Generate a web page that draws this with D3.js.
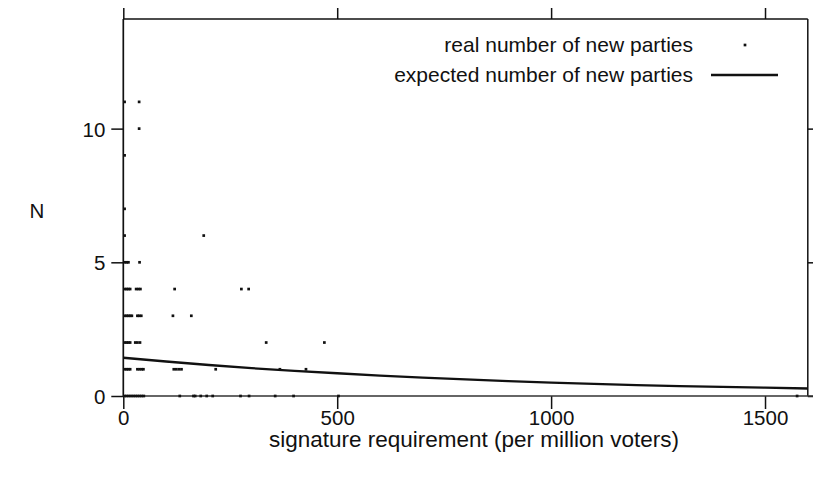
<!DOCTYPE html>
<html>
<head>
<meta charset="utf-8">
<script src="https://cdn.jsdelivr.net/npm/d3@7"></script>
<style>
  html, body { margin: 0; padding: 0; background: #fff; }
  svg { display: block; }
  text { font-family: "Liberation Sans", Arial, Helvetica, sans-serif; fill: #111; }
</style>
</head>
<body>
<svg id="chart" width="813" height="478"></svg>
<script>
// Observed new parties per signature requirement, grouped by count N
const rowN      = [11, 10, 9, 7, 6, 5, 4, 3, 2, 1, 0];
const rowSigReq = [
  [3, 37],
  [37],
  [3],
  [3],
  [3, 188],
  [4, 8, 12, 38],
  [4, 8, 12, 16, 30, 35, 40, 120, 276, 293],
  [4, 8, 12, 16, 20, 33, 37, 42, 116, 159],
  [4, 8, 12, 16, 28, 33, 39, 334, 470],
  [4, 8, 12, 16, 33, 38, 43, 47, 118, 124, 130, 136, 216, 366, 427],
  [3, 8, 13, 18, 23, 28, 33, 38, 43, 48, 132, 164, 168, 181, 195, 209, 274, 294, 355, 398, 503, 1575]
];

// Expected number of new parties along the signature requirement
const expectedX = [0, 100, 200, 300, 400, 500, 600, 700, 800, 900, 1000, 1100, 1200, 1300, 1400, 1500, 1600];
const expectedN = [1.43, 1.29, 1.16, 1.04, 0.94, 0.85, 0.76, 0.69, 0.62, 0.56, 0.50, 0.45, 0.41, 0.37, 0.34, 0.31, 0.28];

const xTicks = [0, 500, 1000, 1500];
const yTicks = [0, 5, 10];
const legendLabels = ["real number of new parties", "expected number of new parties"];
const xTitle = "signature requirement (per million voters)";
const yTitle = "N";

const svg = d3.select("#chart");
const TICK_FS = 20.5;
const LEGEND_FS = 21;
const TITLE_FS = 22.5;

const x = d3.scaleLinear().domain([0, 1600]).range([123.3, 807.8]);
const y = d3.scaleLinear().domain([0, 14.1]).range([396, 19]);

const observations = [];
rowN.forEach((n, i) => rowSigReq[i].forEach(s => observations.push({ s, n })));

// ticks on all four sides
function styleAxis(g) {
  g.select(".domain").remove();
  g.selectAll(".tick line").attr("stroke", "#111").attr("stroke-width", 1.5);
  g.selectAll("text").style("font-size", TICK_FS + "px").attr("fill", "#111");
}

svg.append("g")
  .attr("transform", `translate(0,${y(0)})`)
  .call(d3.axisBottom(x).tickValues(xTicks).tickSize(13).tickSizeOuter(0).tickPadding(0).tickFormat(d3.format("d")))
  .call(styleAxis)
  .call(g => g.selectAll("text").attr("y", 29).attr("dy", null));

svg.append("g")
  .attr("transform", `translate(0,${y.range()[1]})`)
  .call(d3.axisTop(x).tickValues(xTicks).tickSize(11).tickSizeOuter(0).tickFormat(""))
  .call(styleAxis);

svg.append("g")
  .attr("transform", `translate(${x(0)},0)`)
  .call(d3.axisLeft(y).tickValues(yTicks).tickSize(12).tickSizeOuter(0).tickFormat(d3.format("d")))
  .call(styleAxis)
  .call(g => g.selectAll("text").attr("x", -18).attr("dy", "0.36em"));

svg.append("g")
  .attr("transform", `translate(${x(1600)},0)`)
  .call(d3.axisRight(y).tickValues(yTicks).tickSize(8).tickSizeOuter(0).tickFormat(""))
  .call(styleAxis);

// frame
const fx0 = x(0), fx1 = x(1600), fy0 = y(0), fy1 = y.range()[1];
svg.append("line").attr("x1", fx0).attr("x2", fx1).attr("y1", fy1).attr("y2", fy1)
  .attr("stroke", "#111").attr("stroke-width", 1.5);
svg.append("line").attr("x1", fx0).attr("x2", fx0).attr("y1", fy1).attr("y2", fy0)
  .attr("stroke", "#111").attr("stroke-width", 1.7);
svg.append("line").attr("x1", fx1).attr("x2", fx1).attr("y1", fy1).attr("y2", fy0)
  .attr("stroke", "#111").attr("stroke-width", 1.5);
svg.append("line").attr("x1", fx0).attr("x2", 813).attr("y1", fy0).attr("y2", fy0)
  .attr("stroke", "#333").attr("stroke-width", 1.3);

// expected curve
const line = d3.line().x((d, i) => x(expectedX[i])).y(d => y(d));
svg.append("path")
  .datum(expectedN)
  .attr("d", line)
  .attr("fill", "none")
  .attr("stroke", "#111")
  .attr("stroke-width", 2.3);

// observed points
const DOT = 2.7;
svg.append("g").selectAll("rect")
  .data(observations)
  .join("rect")
  .attr("x", d => x(d.s) - DOT / 2)
  .attr("y", d => y(d.n) - DOT / 2)
  .attr("width", DOT)
  .attr("height", DOT)
  .attr("fill", "#111");

// legend
const legendRight = 693;
const legendY = [52, 82];
legendLabels.forEach((t, i) => {
  svg.append("text")
    .attr("x", legendRight).attr("y", legendY[i])
    .attr("text-anchor", "end")
    .style("font-size", LEGEND_FS + "px")
    .text(t);
});
svg.append("rect").attr("x", 745 - DOT / 2).attr("y", 45 - DOT / 2)
  .attr("width", DOT).attr("height", DOT).attr("fill", "#111");
svg.append("line").attr("x1", 711).attr("x2", 778).attr("y1", 75).attr("y2", 75)
  .attr("stroke", "#111").attr("stroke-width", 2.3);

// axis titles
svg.append("text")
  .attr("x", 474).attr("y", 447)
  .attr("text-anchor", "middle")
  .style("font-size", TITLE_FS + "px")
  .text(xTitle);
svg.append("text")
  .attr("x", 37).attr("y", 218)
  .attr("text-anchor", "middle")
  .style("font-size", TICK_FS + "px")
  .text(yTitle);
</script>
</body>
</html>
